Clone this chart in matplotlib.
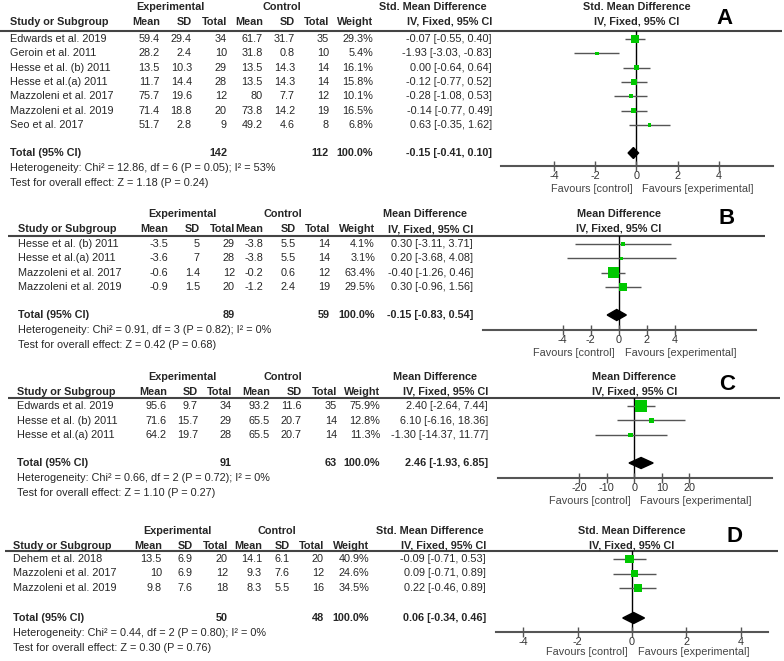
import numpy as np
import matplotlib
matplotlib.use("Agg")
import matplotlib.pyplot as plt
from matplotlib.patches import Polygon

plt.rcParams["font.family"] = ["Liberation Sans", "DejaVu Sans"]

# ---------------- data ----------------
# panel A : std. mean difference
a_study = ["Edwards et al. 2019", "Geroin et al. 2011", "Hesse et al. (b) 2011",
           "Hesse et al.(a) 2011", "Mazzoleni et al. 2017", "Mazzoleni et al. 2019",
           "Seo et al. 2017"]
a_exp_mean = [59.4, 28.2, 13.5, 11.7, 75.7, 71.4, 51.7]
a_exp_sd = [29.4, 2.4, 10.3, 14.4, 19.6, 18.8, 2.8]
a_exp_n = [34, 10, 29, 28, 12, 20, 9]
a_ctl_mean = [61.7, 31.8, 13.5, 13.5, 80, 73.8, 49.2]
a_ctl_sd = [31.7, 0.8, 14.3, 14.3, 7.7, 14.2, 4.6]
a_ctl_n = [35, 10, 14, 14, 12, 19, 8]
a_weight = [29.3, 5.4, 16.1, 15.8, 10.1, 16.5, 6.8]
a_est = [-0.07, -1.93, 0.00, -0.12, -0.28, -0.14, 0.63]
a_lo = [-0.55, -3.03, -0.64, -0.77, -1.08, -0.77, -0.35]
a_hi = [0.40, -0.83, 0.64, 0.52, 0.53, 0.49, 1.62]
a_total = (142, 112, -0.15, -0.41, 0.10)
a_het = "Heterogeneity: Chi² = 12.86, df = 6 (P = 0.05); I² = 53%"
a_test = "Test for overall effect: Z = 1.18 (P = 0.24)"

# panel B : mean difference
b_study = ["Hesse et al. (b) 2011", "Hesse et al.(a) 2011",
           "Mazzoleni et al. 2017", "Mazzoleni et al. 2019"]
b_exp_mean = [-3.5, -3.6, -0.6, -0.9]
b_exp_sd = [5, 7, 1.4, 1.5]
b_exp_n = [29, 28, 12, 20]
b_ctl_mean = [-3.8, -3.8, -0.2, -1.2]
b_ctl_sd = [5.5, 5.5, 0.6, 2.4]
b_ctl_n = [14, 14, 12, 19]
b_weight = [4.1, 3.1, 63.4, 29.5]
b_est = [0.30, 0.20, -0.40, 0.30]
b_lo = [-3.11, -3.68, -1.26, -0.96]
b_hi = [3.71, 4.08, 0.46, 1.56]
b_total = (89, 59, -0.15, -0.83, 0.54)
b_het = "Heterogeneity: Chi² = 0.91, df = 3 (P = 0.82); I² = 0%"
b_test = "Test for overall effect: Z = 0.42 (P = 0.68)"

# panel C : mean difference
c_study = ["Edwards et al. 2019", "Hesse et al. (b) 2011", "Hesse et al.(a) 2011"]
c_exp_mean = [95.6, 71.6, 64.2]
c_exp_sd = [9.7, 15.7, 19.7]
c_exp_n = [34, 29, 28]
c_ctl_mean = [93.2, 65.5, 65.5]
c_ctl_sd = [11.6, 20.7, 20.7]
c_ctl_n = [35, 14, 14]
c_weight = [75.9, 12.8, 11.3]
c_est = [2.40, 6.10, -1.30]
c_lo = [-2.64, -6.16, -14.37]
c_hi = [7.44, 18.36, 11.77]
c_total = (91, 63, 2.46, -1.93, 6.85)
c_het = "Heterogeneity: Chi² = 0.66, df = 2 (P = 0.72); I² = 0%"
c_test = "Test for overall effect: Z = 1.10 (P = 0.27)"

# panel D : std. mean difference
d_study = ["Dehem et al. 2018", "Mazzoleni et al. 2017", "Mazzoleni et al. 2019"]
d_exp_mean = [13.5, 10, 9.8]
d_exp_sd = [6.9, 6.9, 7.6]
d_exp_n = [20, 12, 18]
d_ctl_mean = [14.1, 9.3, 8.3]
d_ctl_sd = [6.1, 7.6, 5.5]
d_ctl_n = [20, 12, 16]
d_weight = [40.9, 24.6, 34.5]
d_est = [-0.09, 0.09, 0.22]
d_lo = [-0.71, -0.71, -0.46]
d_hi = [0.53, 0.89, 0.89]
d_total = (50, 48, 0.06, -0.34, 0.46)
d_het = "Heterogeneity: Chi² = 0.44, df = 2 (P = 0.80); I² = 0%"
d_test = "Test for overall effect: Z = 0.30 (P = 0.76)"

a_ticks = [-4, -2, 0, 2, 4]
b_ticks = [-4, -2, 0, 2, 4]
c_ticks = [-20, -10, 0, 10, 20]
d_ticks = [-4, -2, 0, 2, 4]

W, H = 784, 661
TXT = "#262626"
GREEN = "#00c800"
FS = 7.8

fig = plt.figure(figsize=(W / 100, H / 100), dpi=100)
canvas = fig.add_axes([0, 0, 1, 1])
canvas.set_xlim(0, W)
canvas.set_ylim(H, 0)
canvas.axis("off")


def draw_panel(letter, measure, study, em, es, en, cm, cs, cn, wt, est, lo, hi,
               total, het, test, ticks, lay):
    t = lambda x, y, s, **kw: canvas.text(x, y, s, fontsize=FS, color=TXT, va="center", **kw)
    g_y, h_y = lay["top"], lay["top"] + 15
    cols = lay["cols"]

    # group headings
    t(lay["exp_c"], g_y, "Experimental", ha="center", fontweight="bold")
    t(lay["ctl_c"], g_y, "Control", ha="center", fontweight="bold")
    t(lay["est_c"], g_y, measure, ha="center", fontweight="bold")
    t(lay["study_x"], h_y, "Study or Subgroup", ha="left", fontweight="bold")
    for x, s in zip(cols, ["Mean", "SD", "Total", "Mean", "SD", "Total", "Weight"]):
        t(x, h_y, s, ha="right", fontweight="bold")
    t(lay["est_r"], h_y, "IV, Fixed, 95% CI", ha="right", fontweight="bold")
    canvas.hlines(lay["line_y"], lay["line_x"][0], lay["line_x"][1], color="#444444", lw=1.5)

    rows = lay["line_y"] + 8 + lay["step"] * np.arange(len(study))
    for i, y in enumerate(rows):
        t(lay["study_x"], y, study[i], ha="left")
        vals = [f"{em[i]:g}", f"{es[i]:g}", f"{en[i]}", f"{cm[i]:g}", f"{cs[i]:g}",
                f"{cn[i]}", f"{wt[i]:.1f}%"]
        for x, s in zip(cols, vals):
            t(x, y, s, ha="right")
        t(lay["est_r"], y, f"{est[i]:.2f} [{lo[i]:.2f}, {hi[i]:.2f}]", ha="right")

    ty = lay["total_y"]
    t(lay["study_x"], ty, "Total (95% CI)", ha="left", fontweight="bold")
    t(cols[2], ty, f"{total[0]}", ha="right", fontweight="bold")
    t(cols[5], ty, f"{total[1]}", ha="right", fontweight="bold")
    t(cols[6], ty, "100.0%", ha="right", fontweight="bold")
    t(lay["est_r"], ty, f"{total[2]:.2f} [{total[3]:.2f}, {total[4]:.2f}]",
      ha="right", fontweight="bold")
    t(lay["study_x"], ty + 15, het, ha="left")
    t(lay["study_x"], ty + 30, test, ha="left")

    # forest plot area
    xl, xr = lay["axis_x"]
    ay = lay["axis_y"]
    ax = fig.add_axes([xl / W, 1 - ay / H, (xr - xl) / W, (ay - lay["line_y"]) / H])
    ax.set_xlim(*lay["range"])
    ax.set_ylim(ay, lay["line_y"])
    ax.patch.set_alpha(0)
    for side in ["top", "left", "right"]:
        ax.spines[side].set_visible(False)
    ax.spines["bottom"].set_color("#555555")
    ax.spines["bottom"].set_linewidth(1.5)
    ax.set_yticks([])
    ax.set_xticks(ticks)
    ax.set_xticklabels([f"{v:g}" for v in ticks])
    ax.tick_params(axis="x", direction="inout", length=7, width=1, color="#555555",
                   labelsize=FS, labelcolor="#333333", pad=0)

    ax.axvline(0, color="black", lw=1, zorder=1)
    ax.hlines(rows, lo, hi, color="#555555", lw=1, zorder=2)
    side_px = np.maximum(1.35 * np.sqrt(np.array(wt)), 3.5)
    ax.scatter(est, rows, marker="s", s=(side_px * 0.72) ** 2, color=GREEN,
               edgecolors="none", zorder=3)
    dh = 5.5
    ax.add_patch(Polygon([(total[3], ty), (total[2], ty - dh), (total[4], ty),
                          (total[2], ty + dh)], closed=True, color="black", zorder=3))

    ax.annotate(measure, xy=(0, 1), xycoords=("data", "axes fraction"),
                xytext=(0, lay["line_y"] - g_y), textcoords="offset pixels",
                ha="center", va="center", fontsize=FS, fontweight="bold", color=TXT)
    ax.annotate("IV, Fixed, 95% CI", xy=(0, 1), xycoords=("data", "axes fraction"),
                xytext=(0, lay["line_y"] - h_y), textcoords="offset pixels",
                ha="center", va="center", fontsize=FS, fontweight="bold", color=TXT)
    fy = -(lay["fav_y"] - ay)
    ax.annotate("Favours [control]", xy=(0, 0), xycoords=("data", "axes fraction"),
                xytext=(-4, fy), textcoords="offset pixels", ha="right", va="center",
                fontsize=FS, color="#444444")
    ax.annotate("Favours [experimental]", xy=(0, 0), xycoords=("data", "axes fraction"),
                xytext=(6, fy), textcoords="offset pixels", ha="left", va="center",
                fontsize=FS, color="#444444")
    canvas.text(lay["letter"][0], lay["letter"][1], letter, fontsize=16,
                fontweight="bold", color="black", ha="center", va="center")


draw_panel("A", "Std. Mean Difference", a_study, a_exp_mean, a_exp_sd, a_exp_n,
           a_ctl_mean, a_ctl_sd, a_ctl_n, a_weight, a_est, a_lo, a_hi, a_total,
           a_het, a_test, a_ticks,
           dict(top=7, study_x=10, cols=[160, 192, 227, 263, 295, 329, 373],
                exp_c=170, ctl_c=282, est_c=433, est_r=492, line_y=31,
                line_x=(0, 782), step=14.3, total_y=153, axis_x=(501, 773),
                range=(-6.6, 6.65), axis_y=166, fav_y=189, letter=(725, 19)))

draw_panel("B", "Mean Difference", b_study, b_exp_mean, b_exp_sd, b_exp_n,
           b_ctl_mean, b_ctl_sd, b_ctl_n, b_weight, b_est, b_lo, b_hi, b_total,
           b_het, b_test, b_ticks,
           dict(top=214, study_x=18, cols=[168, 200, 235, 263, 296, 330, 375],
                exp_c=182, ctl_c=283, est_c=425, est_r=473, line_y=236,
                line_x=(8, 765), step=14.3, total_y=315, axis_x=(483, 756),
                range=(-9.7, 9.8), axis_y=330, fav_y=353, letter=(727, 219)))

draw_panel("C", "Mean Difference", c_study, c_exp_mean, c_exp_sd, c_exp_n,
           c_ctl_mean, c_ctl_sd, c_ctl_n, c_weight, c_est, c_lo, c_hi, c_total,
           c_het, c_test, c_ticks,
           dict(top=377, study_x=17, cols=[167, 198, 232, 270, 302, 337, 380],
                exp_c=182, ctl_c=283, est_c=435, est_r=488, line_y=398,
                line_x=(8, 780), step=14.5, total_y=463, axis_x=(498, 772),
                range=(-49.5, 50), axis_y=478, fav_y=501, letter=(727, 385)))

draw_panel("D", "Std. Mean Difference", d_study, d_exp_mean, d_exp_sd, d_exp_n,
           d_ctl_mean, d_ctl_sd, d_ctl_n, d_weight, d_est, d_lo, d_hi, d_total,
           d_het, d_test, d_ticks,
           dict(top=531, study_x=13, cols=[162, 193, 228, 262, 290, 324, 369],
                exp_c=177, ctl_c=277, est_c=430, est_r=486, line_y=551,
                line_x=(5, 778), step=14.5, total_y=618, axis_x=(496, 768),
                range=(-5, 5), axis_y=632, fav_y=652, letter=(735, 537)))

fig.savefig("out.png", dpi=100, facecolor="white")
